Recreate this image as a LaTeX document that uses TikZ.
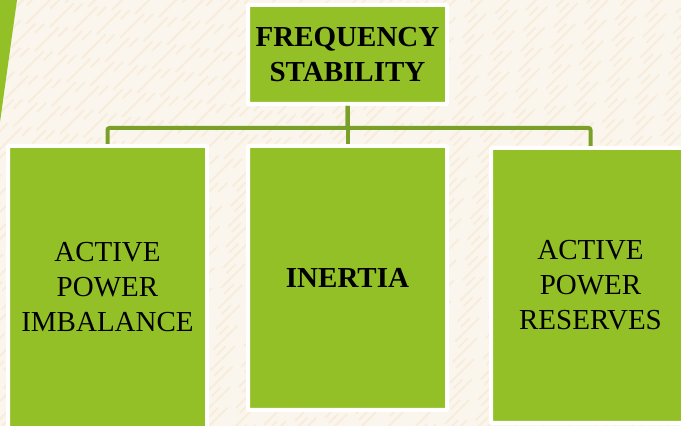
\documentclass[tikz,border=0pt]{standalone}
\usepackage{fontspec}
\setmainfont{Liberation Serif}
\usepackage{tikz}
\usetikzlibrary{positioning}

\definecolor{leafgreen}{RGB}{146,192,38}
\definecolor{stemgreen}{RGB}{122,160,42}
\definecolor{paperbg}{RGB}{251,246,237}
\definecolor{paperline}{RGB}{243,214,170}

\begin{document}
\begin{tikzpicture}[x=1pt,y=1pt,
	box/.style={rectangle,fill=leafgreen,draw=white,line width=4pt,rounded corners=1pt,inner sep=0pt,minimum width=199pt,align=center,font=\fontsize{29}{35}\selectfont},
	stem/.style={draw=stemgreen,line width=4pt,rounded corners=2pt}]
			\useasboundingbox (0,0) rectangle (681,426);
			\clip (0,0) rectangle (681,426);
			\fill[paperbg] (0,0) rectangle (681,426);
			\foreach \i [evaluate=\i as \ph using {mod(abs(\i)*7,97)}] in {-430,-421,...,680}
				\draw[paperline,opacity=.3,line width=1.5pt,dash pattern=on 34pt off 21pt on 13pt off 29pt,dash phase=\ph pt] (\i,0) -- ++(430,430);
			\fill[leafgreen] (0,426) -- (17,426) -- (0,304) -- cycle;

			\node[box,minimum height=99pt] (freq) at (347.5,371.5) {\bfseries FREQUENCY\\\bfseries STABILITY};
			\node[box,minimum height=283pt] (imbal) at (107.5,138.5) {ACTIVE\\POWER\\IMBALANCE};
			\node[box,minimum height=264pt] (inert) at (347.5,148) {\bfseries INERTIA};
			\node[box,minimum height=275pt] (resv) at (590.5,140.5) {ACTIVE\\POWER\\RESERVES};

			\draw[stem] (freq.south) -- ++(0,-22) -| (imbal.north);
			\draw[stem] (freq.south) -- ++(0,-22) -| (resv.north);
			\draw[stem] (freq.south) -- (inert.north);
		\end{tikzpicture}
\end{document}
